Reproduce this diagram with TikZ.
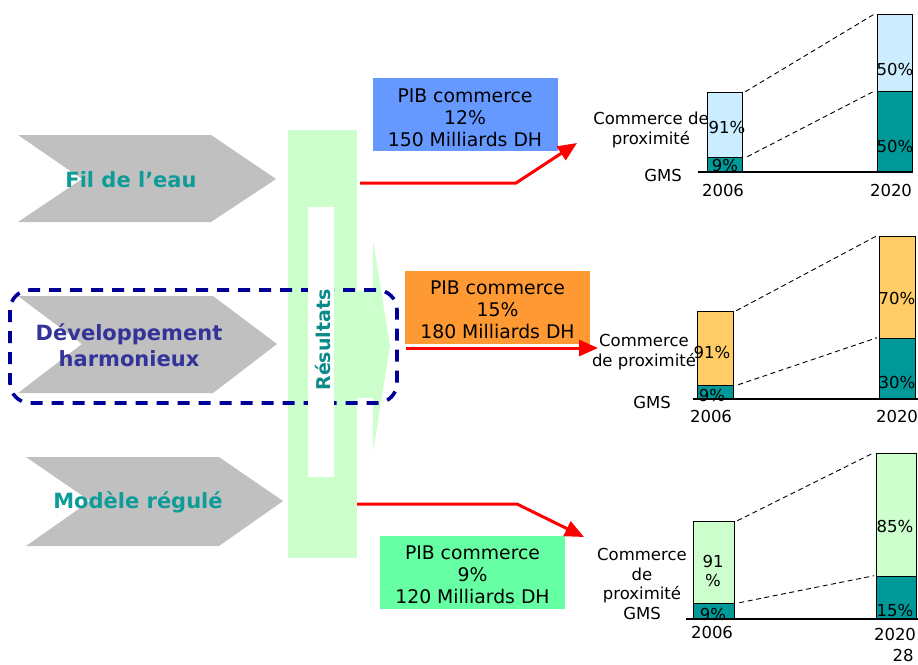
\documentclass[tikz,border=0pt]{standalone}
\usepackage{fontspec}
\setmainfont{DejaVu Sans}
\usetikzlibrary{arrows.meta}

\definecolor{chevgray}{HTML}{C0C0C0}
\definecolor{tealtxt}{HTML}{0E9C98}
\definecolor{navytxt}{HTML}{333399}
\definecolor{dashblue}{HTML}{000099}
\definecolor{resgreen}{HTML}{CCFFCC}
\definecolor{restxt}{HTML}{0A8A88}
\definecolor{gmsteal}{HTML}{009999}
\definecolor{skyfill}{HTML}{CCECFF}
\definecolor{goldfill}{HTML}{FFCC66}
\definecolor{mintfill}{HTML}{CCFFCC}
\definecolor{boxblue}{HTML}{6699FF}
\definecolor{boxorange}{HTML}{FF9933}
\definecolor{boxgreen}{HTML}{66FFA3}

\tikzset{
  chevtxt/.style={font=\fontsize{21}{26}\selectfont\bfseries, align=center, inner sep=0pt},
  pibbox/.style={minimum width=185pt, minimum height=73pt, inner sep=0pt},
  pibtxt/.style={align=center, inner sep=0pt, yshift=-3pt, font=\fontsize{18.8}{22}\selectfont},
  redarrow/.style={draw=red, line width=3pt, -{Triangle[length=19pt,width=16pt]}},
  barseg/.style={draw=black, line width=1.3pt, inner sep=0pt, anchor=south west},
  lbl/.style={font=\fontsize{16.5}{19.5}\selectfont, inner sep=0pt, align=center},
  linkdash/.style={draw=black, line width=0.9pt, dash pattern=on 5pt off 3.5pt},
  baseline/.style={draw=black, line width=1.6pt}
}

\begin{document}
\begin{tikzpicture}[x=1pt, y=-1pt]
\useasboundingbox (0,0) rectangle (918,664);

% ---- scenario chevrons ----
\fill[chevgray] (18,135) -- (211,135) -- (276,179) -- (211,222) -- (18,222) -- (82,179) -- cycle;
\fill[chevgray] (18,296) -- (213,296) -- (277,344) -- (213,393) -- (18,393) -- (82,344) -- cycle;
\fill[chevgray] (26,457) -- (219,457) -- (283,501) -- (219,546) -- (26,546) -- (90,501) -- cycle;
\node[chevtxt, text=tealtxt] (fil) at (131,180) {Fil de l’eau};
\node[chevtxt, text=navytxt] (dev) at (129,345) {Développement\\harmonieux};
\node[chevtxt, text=tealtxt] (mod) at (138,502) {Modèle régulé};

% ---- results block arrow ----
\fill[resgreen] (288,130) rectangle (357,558);
\fill[resgreen] (356,291) rectangle (374,398);
\fill[resgreen] (373,240) -- (390,346) -- (373,452) -- cycle;
\coordinate (out1) at (360,183);
\coordinate (out2) at (406,348);
\coordinate (out3) at (357,504);

% ---- highlight frame ----
\draw[dashblue, line width=3.6pt, dash pattern=on 12pt off 9pt, rounded corners=20pt]
  (10,290) rectangle (397,403);

% ---- label strip ----
\fill[white] (308,207) rectangle (334,477);
\node[font=\fontsize{19}{22}\selectfont\bfseries, text=restxt, rotate=90, inner sep=0pt]
  (res) at (323,340) {Résultats};

% ---- PIB boxes ----
\node[pibbox, fill=boxblue] (pib1) at (465,114.5) {};
\node[pibtxt] (pib1t) at (pib1.center) {PIB commerce\\12\%\\150 Milliards DH};
\node[pibbox, fill=boxorange] (pib2) at (497.5,307) {};
\node[pibtxt] (pib2t) at (pib2.center) {PIB commerce\\15\%\\180 Milliards DH};
\node[pibbox, fill=boxgreen] (pib3) at (472.5,572) {};
\node[pibtxt] (pib3t) at (pib3.center) {PIB commerce\\9\%\\120 Milliards DH};

% ---- red connectors ----
\coordinate (k1) at (516,183);
\coordinate (t1) at (577,143);
\coordinate (t2) at (598,348);
\coordinate (k3) at (517,504);
\coordinate (t3) at (584,537);
\draw[redarrow] (out1) -- (k1) -- (t1);
\draw[redarrow] (out2) -- (t2);
\draw[redarrow] (out3) -- (k3) -- (t3);

% ---- chart 1 ----
\node[barseg, fill=gmsteal, minimum width=35pt, minimum height=14pt] (a1g) at (707,172) {};
\node[barseg, fill=skyfill, minimum width=35pt, minimum height=65pt] (a1c) at (707,158) {};
\node[barseg, fill=gmsteal, minimum width=35pt, minimum height=80pt] (a2g) at (877,172) {};
\node[barseg, fill=skyfill, minimum width=35pt, minimum height=77pt] (a2c) at (877,92) {};
\coordinate (a0) at (698,172);
\coordinate (a9) at (913,172);
\draw[baseline] (a0) -- (a9);
\draw[linkdash] ([xshift=2pt]a1c.north east) -- ([xshift=-2pt]a2c.north west);
\draw[linkdash] ([xshift=4pt]a1g.north east) -- ([xshift=-2pt]a2g.north west);
\node[lbl] (a1lc) at (727,127) {91\%};
\node[lbl] (a1lg) at (725,165) {9\%};
\node[lbl] (a2lc) at (895,69) {50\%};
\node[lbl] (a2lg) at (895,146) {50\%};
\node[lbl] (acom) at (651,130) {Commerce de\\proximité};
\node[lbl] (agms) at (663,175) {GMS};
\node[lbl] (ay1) at (723,190) {2006};
\node[lbl] (ay2) at (891,190) {2020};

% ---- chart 2 ----
\node[barseg, fill=gmsteal, minimum width=36pt, minimum height=13pt] (b1g) at (697,399) {};
\node[barseg, fill=goldfill, minimum width=36pt, minimum height=74pt] (b1c) at (697,386) {};
\node[barseg, fill=gmsteal, minimum width=36pt, minimum height=60pt] (b2g) at (879,399) {};
\node[barseg, fill=goldfill, minimum width=36pt, minimum height=102pt] (b2c) at (879,339) {};
\coordinate (b0) at (693,399);
\coordinate (b9) at (918,399);
\draw[baseline] (b0) -- (b9);
\draw[linkdash] ([xshift=2pt]b1c.north east) -- ([xshift=-2pt]b2c.north west);
\draw[linkdash] ([xshift=4pt]b1g.north east) -- ([xshift=-2pt]b2g.north west);
\node[lbl] (b1lc) at (712,352) {91\%};
\node[lbl] (b1lg) at (712,395) {9\%};
\node[lbl] (b2lc) at (897,298) {70\%};
\node[lbl] (b2lg) at (897,382) {30\%};
\node[lbl] (bcom) at (644,352) {Commerce\\de proximité};
\node[lbl] (bgms) at (652,402) {GMS};
\node[lbl] (by1) at (711,416) {2006};
\node[lbl] (by2) at (897,416) {2020};

% ---- chart 3 ----
\node[barseg, fill=gmsteal, minimum width=41pt, minimum height=15pt] (c1g) at (693,619) {};
\node[barseg, fill=mintfill, minimum width=41pt, minimum height=82pt] (c1c) at (693,604) {};
\node[barseg, fill=gmsteal, minimum width=40pt, minimum height=42pt] (c2g) at (876,619) {};
\node[barseg, fill=mintfill, minimum width=40pt, minimum height=123pt] (c2c) at (876,577) {};
\coordinate (c0) at (686,619);
\coordinate (c9) at (918,619);
\draw[baseline] (c0) -- (c9);
\draw[linkdash] ([xshift=2pt]c1c.north east) -- ([xshift=-2pt]c2c.north west);
\draw[linkdash] ([xshift=4pt]c1g.north east) -- ([xshift=-2pt]c2g.north west);
\node[lbl] (c1lc) at (713,571) {91\\\%};
\node[lbl] (c1lg) at (713,614) {9\%};
\node[lbl] (c2lc) at (895,526) {85\%};
\node[lbl] (c2lg) at (895,610) {15\%};
\node[lbl] (ccom) at (642,584) {Commerce\\de\\proximité\\GMS};
\node[lbl] (cy1) at (712,632) {2006};
\node[lbl] (cy2) at (895,634) {2020};
\node[lbl] (pgno) at (903,655) {28};
\end{tikzpicture}
\end{document}
